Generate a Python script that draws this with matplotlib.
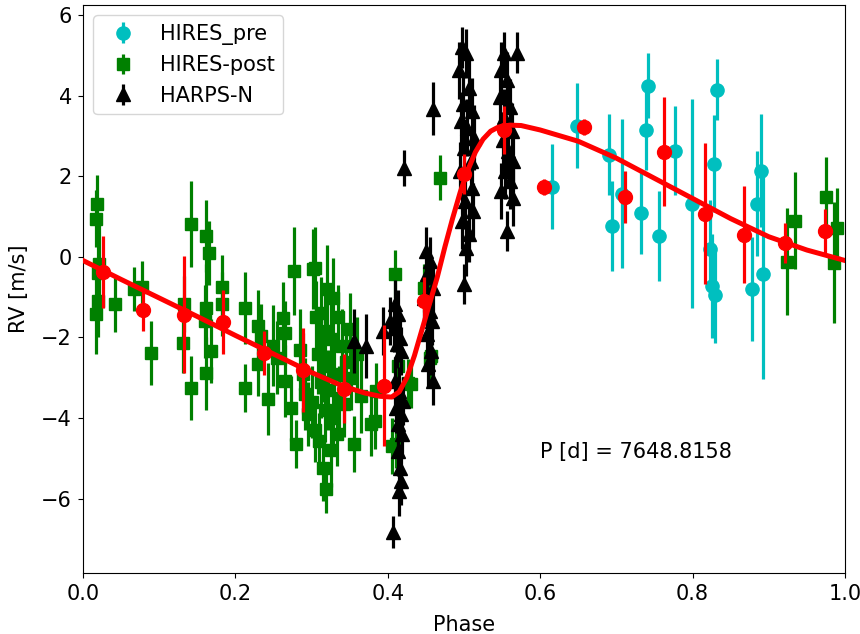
import matplotlib
matplotlib.use("Agg")
import matplotlib.pyplot as plt
import numpy as np

# ---------------- data ----------------
pre_phase = [0.615, 0.648, 0.690, 0.694, 0.707, 0.732, 0.741, 0.739, 0.756, 0.777,
             0.799, 0.828, 0.832, 0.823, 0.826, 0.830, 0.878, 0.884, 0.890, 0.892]
pre_rv = [1.74, 3.26, 2.54, 0.77, 1.57, 1.09, 4.25, 3.16, 0.52, 2.64,
          1.32, 2.31, 4.15, 0.20, -0.72, -0.95, -0.80, 1.32, 2.14, -0.43]
pre_err = [1.05, 1.05, 1.0, 1.12, 1.85, 1.03, 0.8, 1.0, 1.12, 1.1,
           2.6, 1.2, 0.75, 1.2, 1.3, 1.2, 1.3, 1.3, 1.4, 2.6]

post_phase = [0.018, 0.017, 0.021, 0.020, 0.020, 0.017, 0.042, 0.067, 0.078, 0.089,
              0.142, 0.133, 0.131, 0.142, 0.162, 0.166, 0.162, 0.160, 0.168, 0.162, 0.182, 0.183,
              0.212, 0.212, 0.230, 0.234, 0.230, 0.243, 0.263, 0.277, 0.265, 0.265, 0.273, 0.280,
              0.250, 0.255, 0.285, 0.289, 0.292, 0.295, 0.302, 0.306,
              0.305, 0.320, 0.328, 0.312, 0.335, 0.318, 0.325, 0.340, 0.308, 0.316, 0.330, 0.345,
              0.312, 0.322, 0.336, 0.300, 0.318, 0.328, 0.342, 0.305, 0.310, 0.315, 0.319, 0.325,
              0.333, 0.356, 0.365, 0.352, 0.360, 0.378, 0.385, 0.383, 0.350,
              0.409, 0.405, 0.411, 0.414, 0.427, 0.431, 0.448, 0.455, 0.457, 0.468,
              0.924, 0.934, 0.975, 0.985, 0.989]
post_rv = [1.32, 0.95, -0.17, -0.40, -1.10, -1.42, -1.17, -0.80, -0.75, -2.39,
           0.82, -1.17, -2.13, -3.26, 0.52, 0.10, -1.27, -1.60, -2.34, -2.89, -0.75, -1.17,
           -1.27, -3.26, -1.72, -1.97, -2.66, -3.53, -1.52, -0.35, -1.89, -3.08, -3.76, -4.65,
           -2.20, -2.50, -2.30, -2.90, -3.40, -3.90, -0.30, -1.50,
           -0.27, -0.80, -1.02, -1.40, -1.50, -1.85, -2.05, -2.20, -2.40, -2.70, -2.90, -2.60,
           -3.10, -3.30, -3.50, -3.60, -3.80, -4.00, -3.66, -4.30, -4.58, -5.25, -5.75, -4.80,
           -4.40, -4.65, -3.46, -3.00, -2.40, -4.15, -3.33, -4.08, -1.80,
           -0.42, -4.70, -4.65, -2.71, -3.13, -3.16, -0.77, -2.50, -2.46, 1.97,
           -0.12, 0.90, 1.49, -0.15, 0.72]
post_err = [0.7, 0.7, 1.0, 0.8, 0.9, 1.0, 0.7, 0.55, 0.65, 0.8,
            1.07, 0.7, 0.75, 0.8, 0.9, 0.8, 1.1, 0.9, 0.8, 0.9, 0.8, 0.8,
            0.9, 0.6, 0.9, 0.8, 0.8, 0.9, 0.9, 1.1, 0.8, 0.9, 0.8, 0.6,
            1.0, 0.9, 1.0, 1.0, 0.9, 0.8, 1.0, 0.9,
            1.0, 1.1, 1.0, 0.9, 0.8, 0.9, 1.0, 0.9, 1.0, 0.9, 1.0, 0.8,
            0.9, 1.0, 0.8, 0.9, 0.8, 0.9, 0.8, 0.8, 0.7, 0.8, 0.6, 0.9,
            0.8, 0.7, 0.9, 0.8, 0.9, 0.8, 0.7, 0.7, 0.9,
            0.6, 0.7, 0.6, 0.7, 0.6, 0.6, 0.6, 0.6, 0.6, 0.55,
            1.33, 1.2, 1.0, 1.5, 1.0]

harps_phase = [0.356, 0.372,
               0.394, 0.403, 0.410, 0.414, 0.408, 0.416, 0.412, 0.418, 0.410, 0.415, 0.420,
               0.411, 0.417, 0.413, 0.419, 0.414, 0.416, 0.418, 0.415, 0.407,
               0.421, 0.460,
               0.450, 0.456, 0.452, 0.460, 0.448, 0.455, 0.458, 0.451, 0.457, 0.453, 0.459,
               0.497, 0.503, 0.494, 0.507, 0.499, 0.511, 0.496, 0.504, 0.513, 0.500, 0.509,
               0.495, 0.510, 0.502, 0.512, 0.498, 0.506, 0.503, 0.500,
               0.549, 0.556, 0.547, 0.560, 0.553, 0.563, 0.551, 0.558, 0.565, 0.554, 0.561,
               0.548, 0.564, 0.556, 0.552, 0.569]
harps_rv = [-2.09, -2.21,
            -1.84, -1.59, -1.17, -1.42, -1.77, -2.01, -2.16, -2.34, -3.08, -3.33, -3.58,
            -3.76, -3.91, -4.15, -4.40, -4.83, -5.25, -5.57, -5.82, -6.82,
            2.20, 3.68,
            0.15, -0.10, -0.42, -0.77, -1.02, -1.34, -1.59, -1.92, -2.34, -2.66, -3.08,
            5.20, 5.05, 4.63, 4.20, 3.80, 3.63, 3.38, 3.21, 2.96, 2.71, 2.39,
            2.14, 1.72, 1.39, 1.14, 0.90, 0.57, 0.22, -0.67,
            4.63, 4.38, 3.96, 3.71, 3.46, 3.13, 2.89, 2.64, 2.39, 2.14, 1.89,
            1.64, 1.47, 0.65, 5.07, 5.07]
harps_err = [0.8, 0.8,
             0.6, 0.6, 0.6, 0.6, 0.6, 0.6, 0.6, 0.6, 0.6, 0.6, 0.6,
             0.6, 0.6, 0.6, 0.6, 0.6, 0.6, 0.6, 0.6, 0.4,
             0.45, 0.65,
             0.6, 0.6, 0.6, 0.6, 0.6, 0.6, 0.6, 0.6, 0.6, 0.6, 0.6,
             0.5, 0.6, 0.7, 0.7, 0.7, 0.8, 0.7, 0.7, 0.8, 0.7, 0.7,
             0.7, 0.7, 0.7, 0.7, 0.7, 0.7, 0.7, 0.5,
             0.7, 0.7, 0.7, 0.7, 0.7, 0.7, 0.7, 0.7, 0.7, 0.7, 0.7,
             0.7, 0.7, 0.5, 0.5, 0.5]

bin_phase = [0.026, 0.079, 0.132, 0.184, 0.237, 0.289, 0.342, 0.395, 0.447, 0.500,
             0.553, 0.605, 0.658, 0.711, 0.763, 0.816, 0.868, 0.921, 0.974]
bin_rv = [-0.37, -1.33, -1.44, -1.62, -2.39, -2.81, -3.27, -3.20, -1.10, 2.06,
          3.15, 1.74, 3.23, 1.49, 2.61, 1.07, 0.55, 0.35, 0.64]
bin_err = [0.9, 0.5, 1.45, 0.8, 0.55, 1.05, 0.85, 1.5, 0.6, 0.5,
           0.6, 0.2, 0.2, 0.65, 1.35, 1.75, 1.2, 0.5, 0.55]

model_phase = [0.00, 0.05, 0.10, 0.15, 0.20, 0.25, 0.30, 0.34, 0.37, 0.39, 0.405,
               0.415, 0.425, 0.435, 0.445, 0.455, 0.465, 0.475, 0.485, 0.495, 0.505,
               0.515, 0.525, 0.535, 0.545, 0.56, 0.575, 0.60, 0.65, 0.70, 0.75,
               0.80, 0.85, 0.90, 0.95, 1.00]
model_rv = [-0.09, -0.56, -1.02, -1.48, -1.95, -2.41, -2.87, -3.20, -3.38, -3.46, -3.48,
            -3.35, -3.00, -2.45, -1.80, -1.15, -0.50, 0.25, 0.95, 1.60, 2.15,
            2.60, 2.92, 3.12, 3.22, 3.27, 3.26, 3.15, 2.87, 2.45, 1.95,
            1.45, 0.95, 0.50, 0.17, -0.09]

period_text = "P [d] = 7648.8158"

# ---------------- plot ----------------
plt.rcParams['font.family'] = ['DejaVu Sans']
fig = plt.figure(figsize=(8.6, 6.34), dpi=100)
ax = fig.add_axes([0.0965, 0.096, 0.886, 0.896])

fs = 15
ms = 9.5
elw = 2.3
ax.errorbar(pre_phase, pre_rv, yerr=pre_err, fmt='o', color='c', ms=ms,
            elinewidth=elw, capsize=0, label='HIRES_pre', zorder=2)
ax.errorbar(post_phase, post_rv, yerr=post_err, fmt='s', color='g', ms=ms - 0.5,
            elinewidth=elw, capsize=0, label='HIRES-post', zorder=2)
ax.errorbar(harps_phase, harps_rv, yerr=harps_err, fmt='^', color='k', ms=ms,
            elinewidth=elw, capsize=0, label='HARPS-N', zorder=3)
ax.errorbar(bin_phase, bin_rv, yerr=bin_err, fmt='o', color='r', ms=10,
            elinewidth=elw, capsize=0, zorder=4)
ax.plot(model_phase, model_rv, color='r', lw=3.6, zorder=5)

ax.text(0.600, -4.85, period_text, fontsize=fs, va='center', ha='left')

ax.set_xlim(0, 1)
ax.set_ylim(-7.85, 6.25)
ax.set_xticks([0.0, 0.2, 0.4, 0.6, 0.8, 1.0])
ax.set_yticks([-6, -4, -2, 0, 2, 4, 6])
ax.tick_params(labelsize=fs, pad=4.5)
ax.set_xlabel('Phase', fontsize=fs, labelpad=8)
ax.set_ylabel('RV [m/s]', fontsize=fs, labelpad=9)

ax.legend(loc='upper left', fontsize=fs, numpoints=1)

fig.savefig('out.png', dpi=100)
